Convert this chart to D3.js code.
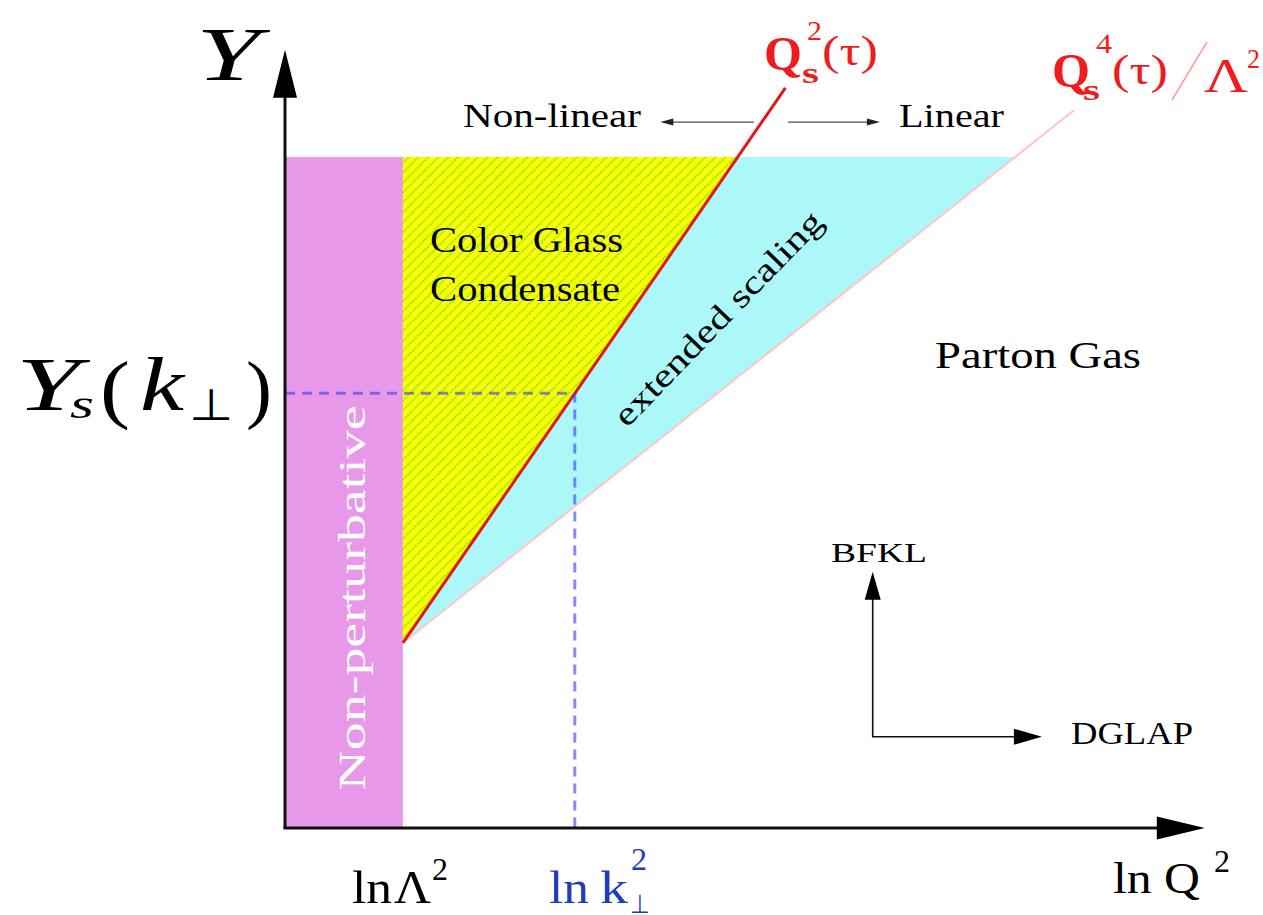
<!DOCTYPE html>
<html>
<head>
<meta charset="utf-8">
<script src="https://cdn.jsdelivr.net/npm/d3@7"></script>
<style>
  body { margin: 0; background: #fff; }
  svg { display: block; }
  text { font-family: "Liberation Serif", "Times New Roman", serif; }
</style>
</head>
<body>
<div id="chart"></div>
<script>
// ---- data, in (ln Q^2 , Y) units ----
var lnLambda2 = 1.31;          // ln Λ^2
var lnK2 = 3.22;               // ln k⊥^2
var Ys = 6.48;                 // Y_s(k⊥)
var Ymax = 10;
var xAxisEnd = 10.22, yAxisEnd = 11.6;

var nonPertRegion = [[0, 0], [1.31, 0], [1.31, 10], [0, 10]];
var cgcRegion     = [[1.31, 2.76], [5.03, 10], [1.31, 10]];
var scalingRegion = [[1.31, 2.76], [8.11, 10], [5.03, 10]];
var satLine       = [[1.31, 2.76], [5.56, 11.03]];   // Q_s^2(τ)
var scalingLine   = [[1.31, 2.76], [8.77, 10.7]];    // Q_s^4(τ)/Λ^2

var evoOrigin = [6.53, 1.36];
var bfklTip = 3.82, dglapTip = 8.41;
var regimeY = 10.52;
var regimeArrows = [{from: 5.21, to: 4.17}, {from: 5.59, to: 6.61}];

var width = 1263, height = 915;

var x = d3.scaleLinear().domain([0, 10]).range([285, 1185]);
var y = d3.scaleLinear().domain([0, 10]).range([828, 157]);

var svg = d3.select("#chart").append("svg")
    .attr("width", width)
    .attr("height", height);

var defs = svg.append("defs");
var hatch = defs.append("pattern")
    .attr("id", "hatch")
    .attr("patternUnits", "userSpaceOnUse")
    .attr("width", 7).attr("height", 7)
    .attr("patternTransform", "rotate(45)");
hatch.append("rect").attr("width", 7).attr("height", 7).attr("fill", "#ffff00");
hatch.append("line")
    .attr("x1", 1).attr("y1", 0).attr("x2", 1).attr("y2", 7)
    .attr("stroke", "#2ad82a").attr("stroke-width", 1)
    .attr("stroke-dasharray", "2.5 1");

var poly = d3.line().x(function(d){ return x(d[0]); }).y(function(d){ return y(d[1]); });

// regions
svg.append("path").datum(nonPertRegion).attr("d", poly(nonPertRegion) + "Z").attr("fill", "#e898e8");
svg.append("path").datum(scalingRegion).attr("d", poly(scalingRegion) + "Z").attr("fill", "#acf8f8");
svg.append("path").datum(cgcRegion).attr("d", poly(cgcRegion) + "Z").attr("fill", "url(#hatch)");

// Q_s^4/Λ^2 line (faint)
svg.append("path").attr("d", poly(scalingLine))
    .attr("stroke", "#ffc4c4").attr("stroke-width", 2).attr("fill", "none");
// saturation line
svg.append("path").attr("d", poly(satLine))
    .attr("stroke", "#e01818").attr("stroke-width", 3).attr("fill", "none");

// dashed guide lines
svg.append("path")
    .attr("d", poly([[0, Ys], [lnK2, Ys], [lnK2, 0]]))
    .attr("fill", "none")
    .attr("stroke", "#3a3aff").attr("stroke-opacity", 0.6)
    .attr("stroke-width", 3).attr("stroke-dasharray", "10 7");

function arrowHead(tx, ty, dx, dy, len, half, color) {
    var px = -dy, py = dx;
    var bx = tx - dx * len, by = ty - dy * len;
    svg.append("path")
        .attr("d", "M" + tx + "," + ty +
                   "L" + (bx + px * half) + "," + (by + py * half) +
                   "L" + (bx - px * half) + "," + (by - py * half) + "Z")
        .attr("fill", color || "#000");
}

// axes
svg.append("line")
    .attr("x1", x(0)).attr("y1", y(0)).attr("x2", x(0)).attr("y2", y(yAxisEnd) + 20)
    .attr("stroke", "#111").attr("stroke-width", 3);
arrowHead(x(0), y(yAxisEnd), 0, -1, 48, 12);
svg.append("line")
    .attr("x1", x(0) - 1.5).attr("y1", y(0)).attr("x2", x(xAxisEnd) - 20).attr("y2", y(0))
    .attr("stroke", "#111").attr("stroke-width", 3);
arrowHead(x(xAxisEnd), y(0), 1, 0, 48, 11.5);

// Non-linear <-  -> Linear
regimeArrows.forEach(function(a) {
    var dir = a.to > a.from ? 1 : -1;
    svg.append("line")
        .attr("x1", x(a.from)).attr("y1", y(regimeY))
        .attr("x2", x(a.to) - dir * 8).attr("y2", y(regimeY))
        .attr("stroke", "#222").attr("stroke-width", 1);
    arrowHead(x(a.to), y(regimeY), dir, 0, 13, 3.5, "#222");
});

// BFKL / DGLAP arrows
svg.append("path")
    .attr("d", "M" + x(evoOrigin[0]) + "," + (y(bfklTip) + 20) +
               "L" + x(evoOrigin[0]) + "," + y(evoOrigin[1]) +
               "L" + (x(dglapTip) - 20) + "," + y(evoOrigin[1]))
    .attr("fill", "none").attr("stroke", "#111").attr("stroke-width", 1.6);
arrowHead(x(evoOrigin[0]), y(bfklTip), 0, -1, 28, 8);
arrowHead(x(dglapTip), y(evoOrigin[1]), 1, 0, 28, 8);

// ---- text ----
function label(px, py, str, size, opts) {
    opts = opts || {};
    var t = svg.append("text")
        .attr("x", px).attr("y", py)
        .attr("font-size", size)
        .attr("fill", opts.fill || "#000")
        .text(str);
    if (opts.italic) t.attr("font-style", "italic");
    if (opts.bold) t.attr("font-weight", "bold");
    if (opts.len) t.attr("textLength", opts.len).attr("lengthAdjust", "spacingAndGlyphs");
    if (opts.anchor) t.attr("text-anchor", opts.anchor);
    if (opts.rotate != null) t.attr("transform", "rotate(" + opts.rotate + "," + px + "," + py + ")");
    return t;
}

// axis titles
label(196, 80, "Y", 76, {italic: true, len: 64});
label(1113, 893, "ln Q", 44, {len: 87});
label(1214, 872, "2", 32);

// Y_s(k⊥)
label(16, 410, "Y", 76, {italic: true, len: 64});
label(70, 418, "s", 40, {italic: true, len: 24});
label(100, 414, "(", 76, {len: 30});
label(140, 410, "k", 76, {italic: true, len: 44});
label(189, 420, "⊥", 44, {len: 44});
label(246, 414, ")", 76, {len: 26});

// x labels
label(352, 903, "ln", 46, {len: 40});
label(394, 903, "Λ", 46, {len: 37});
label(432, 880, "2", 32, {len: 16});
label(549, 903, "ln", 46, {fill: "#1e3cc0", len: 40});
label(600, 903, "k", 46, {fill: "#1e3cc0", len: 28});
label(631, 870, "2", 32, {fill: "#1e3cc0", len: 16});
label(630, 913, "⊥", 26, {fill: "#1e3cc0", len: 20});

// Q_s^2(τ)
var red = "#ee1c1c";
label(764, 70, "Q", 48, {bold: true, fill: red, len: 38});
label(802, 83, "s", 30, {bold: true, fill: red, len: 17});
label(807, 40, "2", 28, {fill: red, len: 15});
label(822, 65, "(τ)", 42, {fill: red, len: 56});

// Q_s^4(τ)/Λ^2
label(1052, 87, "Q", 48, {bold: true, fill: red, len: 38});
label(1083, 100, "s", 30, {bold: true, fill: red, len: 17});
label(1096, 53, "4", 28, {fill: red, len: 16});
label(1112, 84, "(τ)", 42, {fill: red, len: 56});
svg.append("line").attr("x1", 1172).attr("y1", 100).attr("x2", 1207).attr("y2", 42)
    .attr("stroke", "#ff9c9c").attr("stroke-width", 1.5);
label(1204, 92, "Λ", 48, {fill: red, len: 44});
label(1247, 68, "2", 28, {fill: red, len: 13});

// regime labels
label(463, 127, "Non-linear", 34, {len: 178});
label(899, 127, "Linear", 34, {len: 105});

// region labels
label(430, 252, "Color Glass", 36, {len: 193});
label(430, 301, "Condensate", 36, {len: 190});
label(935, 368, "Parton Gas", 38, {len: 206});
label(365, 598, "Non-perturbative", 38, {fill: "#fff", anchor: "middle", rotate: -90, len: 385});
label(726, 326, "extended scaling", 33, {anchor: "middle", rotate: -46, len: 285});

// evolution labels
label(831, 562, "BFKL", 28, {len: 96});
label(1071, 744, "DGLAP", 31, {len: 122});
</script>
</body>
</html>
